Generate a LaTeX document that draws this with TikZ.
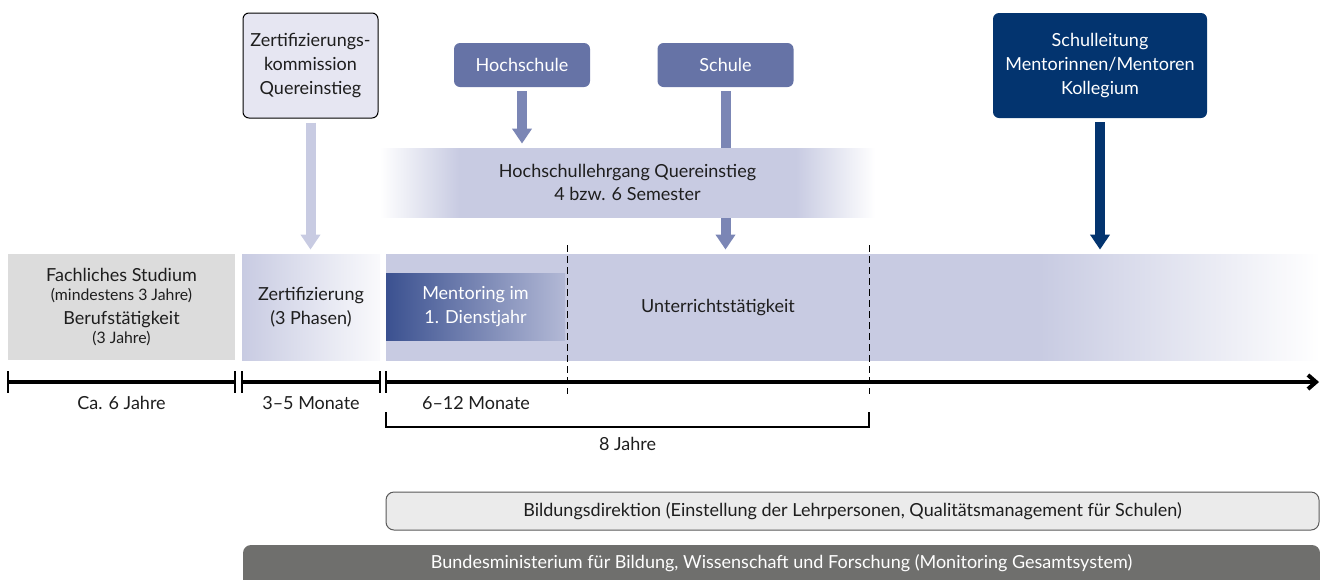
\documentclass[tikz,border=0pt]{standalone}
\usepackage{fontspec}
\setmainfont{Lato}
\usepackage{tikz}
\usetikzlibrary{arrows.meta, positioning}

\definecolor{lavendel}{HTML}{C8CBE2}
\definecolor{lavhell}{HTML}{E6E6F2}
\definecolor{hsblau}{HTML}{6673A6}
\definecolor{pfeilblau}{HTML}{7B86B5}
\definecolor{navy}{HTML}{03346F}
\definecolor{mentblau}{HTML}{3B5190}
\definecolor{fachgrau}{HTML}{DCDCDC}
\definecolor{bdgrau}{HTML}{EBEBEB}
\definecolor{bmgrau}{HTML}{6F6F6D}
\definecolor{textgrau}{HTML}{1E1E1E}

\pgfdeclarehorizontalshading{bandfade}{100bp}{color(0bp)=(white); color(25bp)=(white); color(33bp)=(lavendel); color(67bp)=(lavendel); color(75bp)=(white); color(100bp)=(white)}
\pgfdeclarehorizontalshading{hauptfade}{100bp}{color(0bp)=(lavendel); color(25bp)=(lavendel); color(60bp)=(lavendel); color(75bp)=(white); color(100bp)=(white)}

\newcommand\klein{\fontsize{7.9}{9}\selectfont}

\begin{document}
\begin{tikzpicture}[x=0.5pt, y=-0.5pt,
				>={Straight Barb[length=4pt,width=7pt]},   %Pfeilspitze Zeitachse
				font=\fontsize{9}{11.8}\selectfont, text=textgrau,
				kasten/.style={rectangle, rounded corners=3pt, inner sep=0pt, align=center},
				phase/.style={rectangle, inner sep=0pt, align=center},
				fett/.style={line width=5pt, -{Triangle[width=9.5pt,length=7.5pt]}, shorten <=2pt, shorten >=2pt}]
				\useasboundingbox (0,0) rectangle (1320,579);
				% Phasen
				\node[phase, fill=fachgrau, minimum width=113.5pt, minimum height=53pt] (fach) at (121.5,307) {Fachliches Studium\\[-2pt]{\klein (mindestens 3 Jahre)}\\[0pt]Berufstätigkeit\\[-2pt]{\klein (3 Jahre)}};
				\node[phase, left color=lavendel, right color=lavendel!10, minimum width=69pt, minimum height=53pt] (zert) at (311,307) {Zertifizierung\\(3 Phasen)};
				\node[phase, shading=hauptfade, minimum width=467pt, minimum height=53pt] (haupt) at (853,307) {};
				\node[phase, left color=mentblau, right color=lavendel!85!mentblau, text=white, minimum width=89.5pt, minimum height=33.5pt] (ment) at (475.5,306.5) {Mentoring im\\1. Dienstjahr};
				\node (unterricht) at (718,308) {Unterrichtstätigkeit};
				\foreach \x in {567,869} \draw[line width=0.5pt, dash pattern=on 3.5pt off 2pt] (\x,245) -- (\x,394);
				% Zeitachse
				\draw[line width=2pt] (8,382) -- (235,382);
				\draw[line width=2pt] (242,382) -- (380,382);
				\draw[line width=2pt, ->] (386,382) -- (1319,382);
				\foreach \x in {8,235,242,380,386} \draw[line width=0.7pt] (\x,371) -- (\x,393);
				\node (dauer1) at (121.5,403) {Ca. 6 Jahre};
				\node (dauer2) at (311,403) {3–5 Monate};
				\node (dauer3) at (476,403) {6–12 Monate};
				\draw[line width=0.6pt] (386,412) |- (869,427) -- (869,412);
				\node (dauer4) at (627.5,444) {8 Jahre};
				% Akteure oben
				\node[kasten, fill=hsblau, text=white, minimum width=68pt, minimum height=22pt] (hs) at (522,65) {Hochschule};
				\node[kasten, fill=hsblau, text=white, minimum width=68pt, minimum height=22pt] (schule) at (725.5,65) {Schule};
				\node[kasten, draw=black, line width=0.5pt, fill=lavhell, minimum width=67.5pt, minimum height=52.5pt] (zk) at (310.5,65.5) {Zertifizierungs-\\kommission\\Quereinstieg};
				\node[kasten, fill=navy, text=white, minimum width=107pt, minimum height=52.5pt] (sl) at (1100,65.5) {Schulleitung\\Mentorinnen/Mentoren\\Kollegium};
				\draw[fett, pfeilblau] (schule.south) -- (schule.south |- haupt.north);
				\node[phase, shading=bandfade, minimum width=247.5pt, minimum height=34.5pt] (lehrgang) at (627.5,182.5) {Hochschullehrgang Quereinstieg\\4 bzw. 6 Semester};
				% Pfeile
				\draw[fett, pfeilblau] (hs.south) -- (hs.south |- lehrgang.north);
				\draw[fett, lavendel] (zk.south) -- (zk.south |- zert.north);
				\draw[fett, navy] (sl.south) -- (sl.south |- haupt.north);
				% Behoerden unten
				\node[kasten, rounded corners=4pt, draw=black!65, line width=0.5pt, fill=bdgrau, minimum width=466.5pt, minimum height=19pt] (bd) at (852.5,511) {Bildungsdirektion (Einstellung der Lehrpersonen, Qualitätsmanagement für Schulen)};
				\node[kasten, rounded corners=4pt, fill=bmgrau, text=white, minimum width=538.5pt, text height=11.5pt, text depth=11pt, anchor=base] (bm) at (781.5,568) {Bundesministerium für Bildung, Wissenschaft und Forschung (Monitoring Gesamtsystem)};
\end{tikzpicture}
\end{document}
